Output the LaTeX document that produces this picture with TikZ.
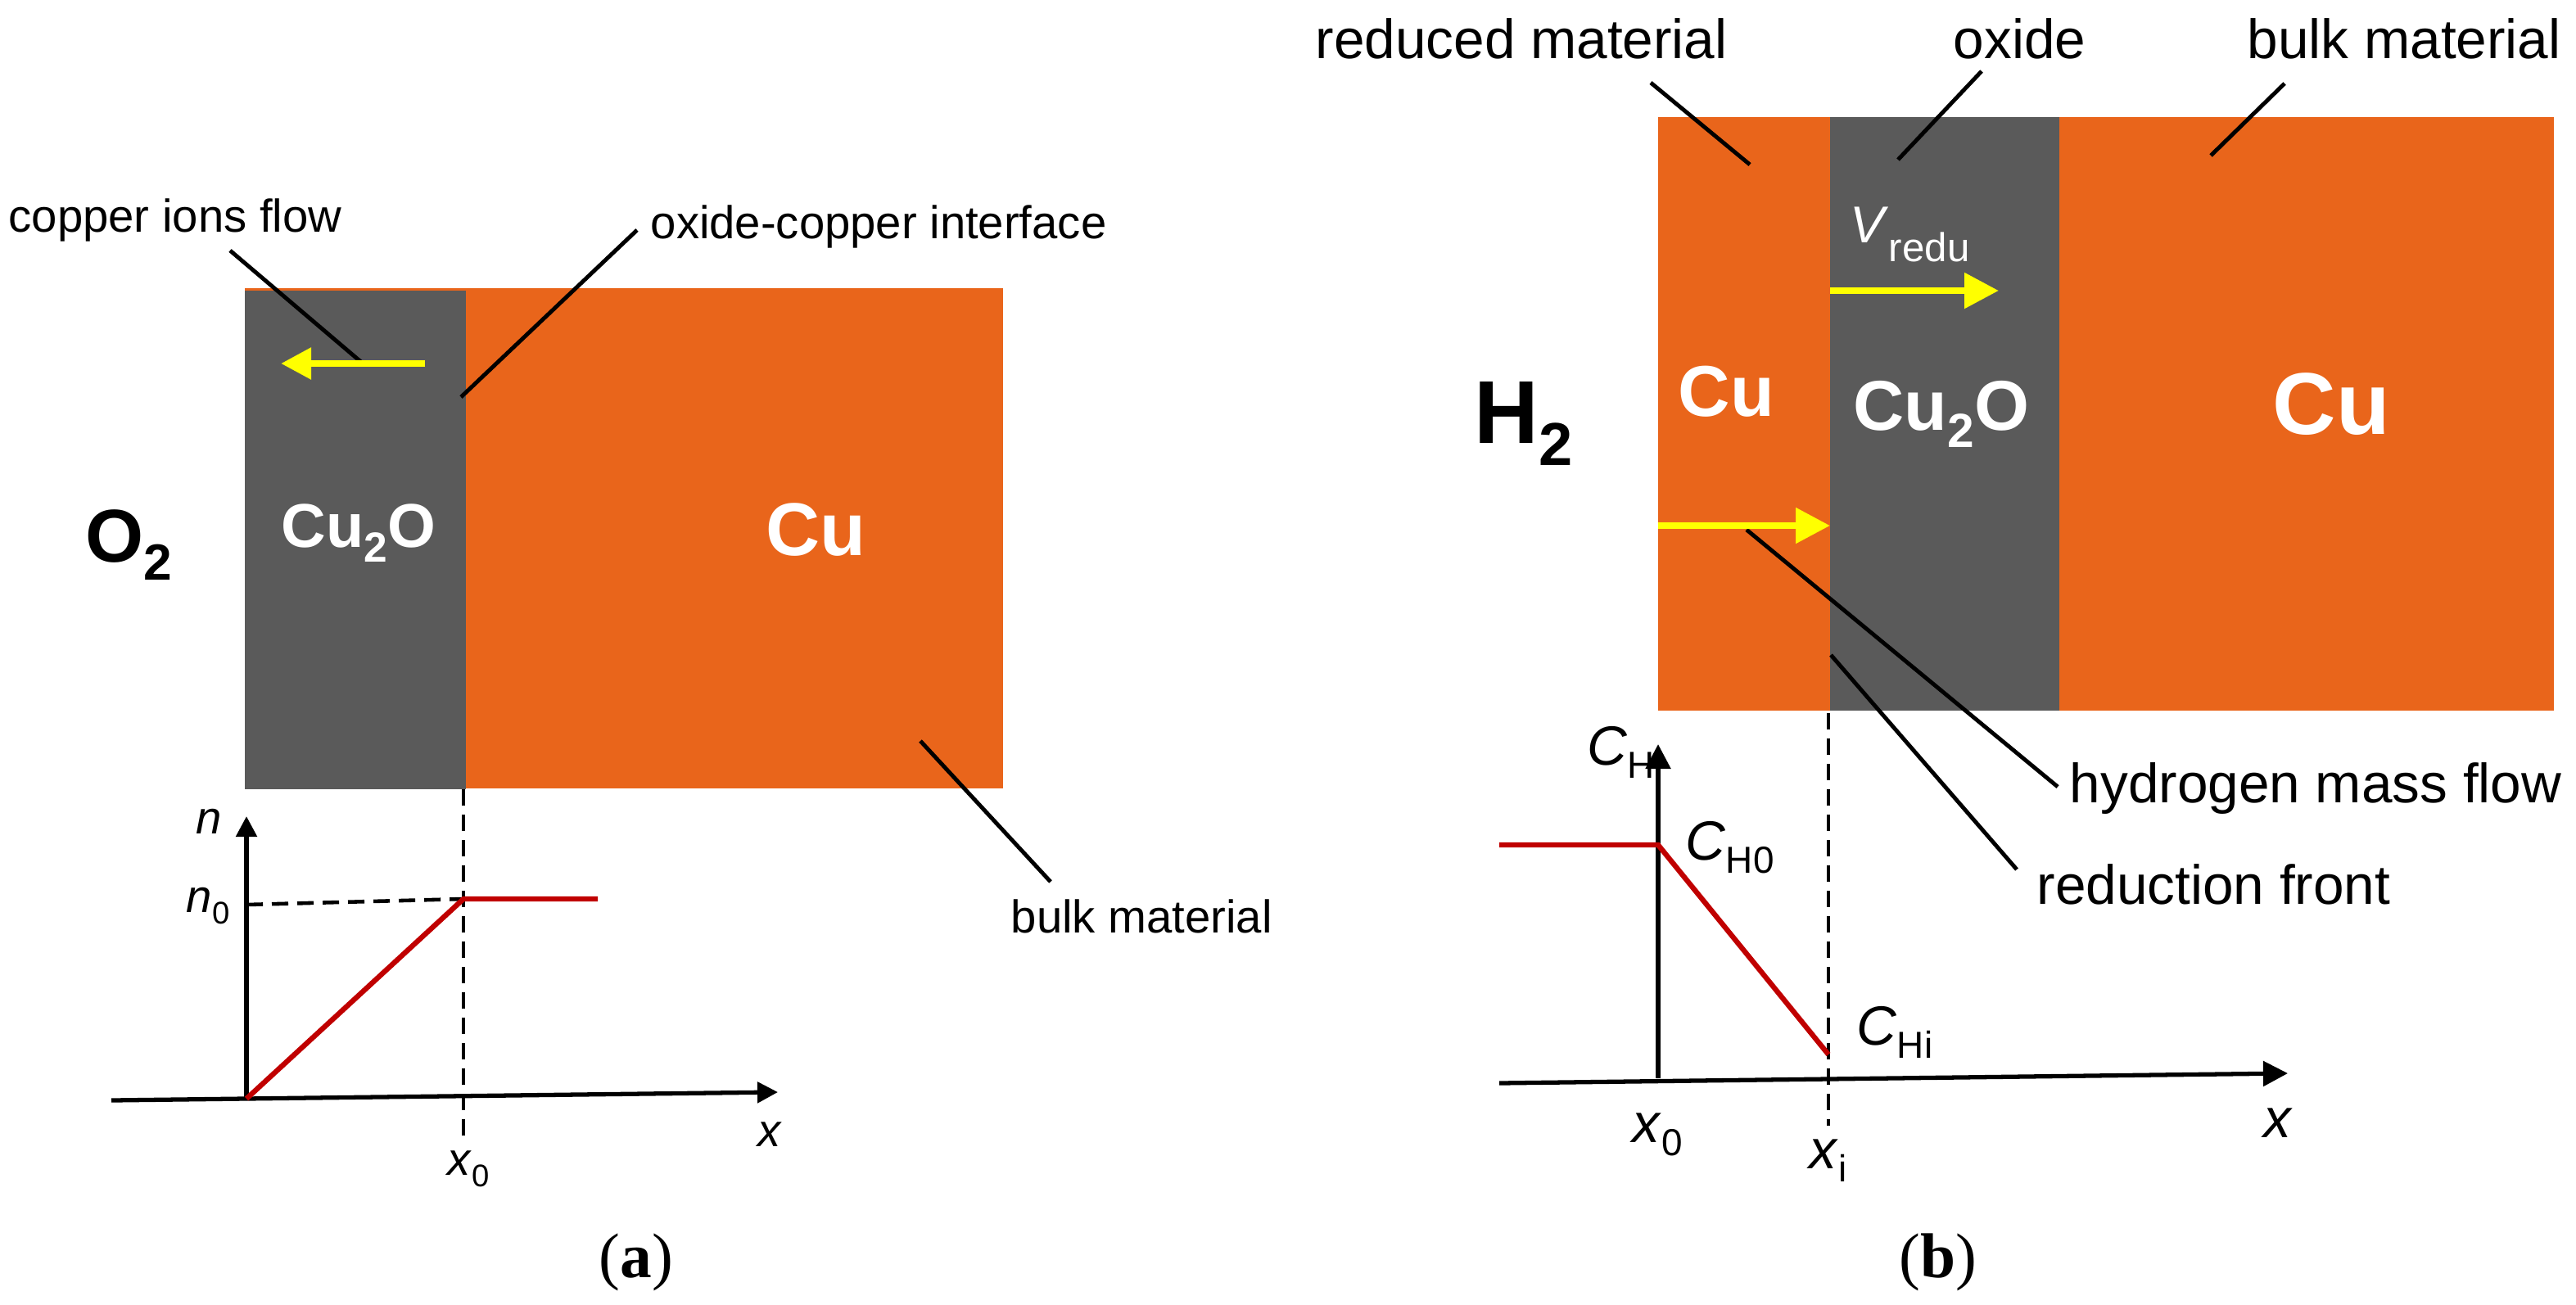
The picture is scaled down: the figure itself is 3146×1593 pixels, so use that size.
\documentclass[tikz,border=0pt]{standalone}
\usepackage{fontspec}
\usepackage{graphicx}
\setmainfont{Liberation Sans}
\newfontfamily\capfont{Liberation Serif}
\usetikzlibrary{arrows.meta}
\definecolor{copperorange}{HTML}{E9651B}
\definecolor{oxidegray}{HTML}{5A5A5A}
\definecolor{profilered}{HTML}{C00000}
\definecolor{flowyellow}{HTML}{FFFF00}

% lowered subscript, as in the drawing
\newcommand{\lsub}[1]{\raisebox{-0.25em}{\scalebox{0.68}{#1}}}

\tikzset{
    layer/.style = {rectangle, inner sep = 0pt, outer sep = 0pt},
    chem/.style = {inner sep = 0pt, text = white, font = \fontsize{#1}{#1}\selectfont\bfseries},
    lbl/.style = {inner sep = 0pt, font = \fontsize{#1}{#1}\selectfont},
    leader/.style = {line width = 1.4pt},
    flow/.style = {flowyellow, line width = 2.4pt, -{Triangle[length = #1, width = #1]}},
    axis/.style = {line width = 1.5pt, -{Triangle[length = #1, width = #1]}},
    guide/.style = {line width = 1.3pt, dash pattern = on 0.2cm off 0.11cm},
    profile/.style = {profilered, line width = 1.8pt}
}

\begin{document}
\begin{tikzpicture}[x = 0.01cm, y = -0.01cm]
        \useasboundingbox (0, 0) rectangle (3146, 1593);

        % Layers (a)
        \node [layer, fill = copperorange, minimum width = 9.26cm, minimum height = 6.11cm] (cua) at (762, 657.5) {};
        \node [layer, fill = oxidegray, minimum width = 2.70cm, minimum height = 6.09cm] (oxa) at (434, 659.5) {};

        % Layers (b)
        \node [layer, fill = copperorange, minimum width = 10.94cm, minimum height = 7.25cm] (cub) at (2572, 505.5) {};
        \node [layer, fill = oxidegray, minimum width = 2.80cm, minimum height = 7.25cm] (oxb) at (2375, 505.5) {};

        % Species
        \node [chem = 26, text = black, anchor = base west] (o2) at (104, 686) {O\lsub{2}};
        \node [chem = 21.5, anchor = base west] (cu2oa) at (343, 668) {Cu\lsub{2}O};
        \node [chem = 26, anchor = base west] (cuatxt) at (935, 678) {Cu};
        \node [chem = 31, text = black, anchor = base west] (h2) at (1800, 541) {H\lsub{2}};
        \node [chem = 25, anchor = base west] (cubl) at (2049, 508) {Cu};
        \node [chem = 24.5, anchor = base west] (cu2ob) at (2263, 525) {Cu\lsub{2}O};
        \node [chem = 30.5, anchor = base west] (cubr) at (2775, 530) {Cu};
        \node [lbl = 18, text = white, anchor = base west] (vredu) at (2259, 296) {\textit{V}\raisebox{-0.23cm}{\fontsize{14}{14}\selectfont redu}};

        % Labels
        \node [lbl = 16, anchor = base west] (ions) at (10, 283) {copper ions flow};
        \node [lbl = 16, anchor = base west] (iface) at (794, 291) {oxide-copper interface};
        \node [lbl = 16, anchor = base west] (bulka) at (1234, 1139) {bulk material};
        \node [lbl = 19.2, anchor = base west] (reduced) at (1606, 71) {reduced material};
        \node [lbl = 19.2, anchor = base west] (oxide) at (2385, 71) {oxide};
        \node [lbl = 19.2, anchor = base west] (bulkb) at (2744, 71) {bulk material};
        \node [lbl = 19.2, anchor = base west] (hflow) at (2527, 980) {hydrogen mass flow};
        \node [lbl = 19.2, anchor = base west] (front) at (2487, 1104) {reduction front};

        % Leader ends
        \coordinate (ionsA) at (281, 306);      \coordinate (ionsB) at (442, 443);
        \coordinate (ifaceA) at (778, 281);     \coordinate (ifaceB) at (563, 485);
        \coordinate (bulkaA) at (1283, 1077);   \coordinate (bulkaB) at (1124, 905);
        \coordinate (reducedA) at (2016, 101);  \coordinate (reducedB) at (2137, 201);
        \coordinate (oxideA) at (2420, 87);     \coordinate (oxideB) at (2318, 195);
        \coordinate (bulkbA) at (2790, 102);    \coordinate (bulkbB) at (2700, 190);
        \coordinate (hflowA) at (2513, 961);    \coordinate (hflowB) at (2133, 647);
        \coordinate (frontA) at (2463, 1062);   \coordinate (frontB) at (2236, 800);

        % Draw the leaders
        \foreach \l in {ions, iface, bulka, reduced, oxide, bulkb, hflow, front}
            \draw [leader] (\l A) -- (\l B);

        % Flow arrows
        \coordinate (cuflowA) at (519, 444);   \coordinate (cuflowB) at (343, 444);
        \coordinate (frontvA) at (2235, 355);  \coordinate (frontvB) at (2441, 355);
        \coordinate (hydA) at (2025, 642);     \coordinate (hydB) at (2235, 642);
        \draw [flow = 0.37cm] (cuflowA) -- (cuflowB);
        \draw [flow = 0.42cm] (frontvA) -- (frontvB);
        \draw [flow = 0.42cm] (hydA) -- (hydB);

        % Profile (a)
        \coordinate (oa) at (301, 1342);
        \coordinate (xla) at (136, 1344);   \coordinate (xra) at (950, 1334);
        \coordinate (yta) at (301, 997);
        \coordinate (na) at (566, 1098);    \coordinate (nea) at (730, 1098);
        \coordinate (n0a) at (301, 1105);
        \coordinate (dta) at (566, 964);    \coordinate (dba) at (566, 1387);
        \draw [axis = 0.25cm] (xla) -- (xra);
        \draw [axis = 0.25cm] (oa) -- (yta);
        \draw [guide] (n0a) -- (na);
        \draw [guide] (dta) -- (dba);
        \draw [profile] (oa) -- (na) -- (nea);
        \node [lbl = 16, anchor = base] (nlbl) at (255, 1018) {\textit{n}};
        \node [lbl = 16, anchor = base east] (n0lbl) at (281, 1114) {\textit{n}\lsub{0}};
        \node [lbl = 16, anchor = base west] (xlbla) at (925, 1400) {\textit{x}};
        \node [lbl = 16, anchor = base west] (x0lbla) at (546, 1435) {\textit{x}\lsub{0}};

        % Profile (b)
        \coordinate (ob) at (2025, 1317);
        \coordinate (xlb) at (1831, 1323);  \coordinate (xrb) at (2794, 1311);
        \coordinate (ytb) at (2025, 909);
        \coordinate (cl) at (1831, 1032);   \coordinate (c0) at (2025, 1032);
        \coordinate (ci) at (2233, 1288);
        \coordinate (dtb) at (2233, 871);   \coordinate (dbb) at (2233, 1375);
        \draw [axis = 0.3cm] (xlb) -- (xrb);
        \draw [axis = 0.3cm] (ob) -- (ytb);
        \draw [guide] (dtb) -- (dbb);
        \draw [profile] (cl) -- (c0) -- (ci);
        \node [lbl = 19.2, anchor = base west] (chlbl) at (1938, 934) {\textit{C}\lsub{H}};
        \node [lbl = 19.2, anchor = base west] (ch0lbl) at (2058, 1050) {\textit{C}\lsub{H0}};
        \node [lbl = 19.2, anchor = base west] (chilbl) at (2267, 1276) {\textit{C}\lsub{Hi}};
        \node [lbl = 19.2, anchor = base west] (xlblb) at (2764, 1389) {\textit{x}};
        \node [lbl = 19.2, anchor = base west] (x0lblb) at (1993, 1395) {\textit{x}\lsub{0}};
        \node [lbl = 19.2, anchor = base west] (xilblb) at (2209, 1427) {\textit{x}\lsub{i}};

        % Captions
        \node [anchor = base, font = \capfont\fontsize{22}{24}\selectfont] (capa) at (777, 1560) {(\textbf{a})};
        \node [anchor = base, font = \capfont\fontsize{22}{24}\selectfont] (capb) at (2367, 1560) {(\textbf{b})};

\end{tikzpicture}
\end{document}
